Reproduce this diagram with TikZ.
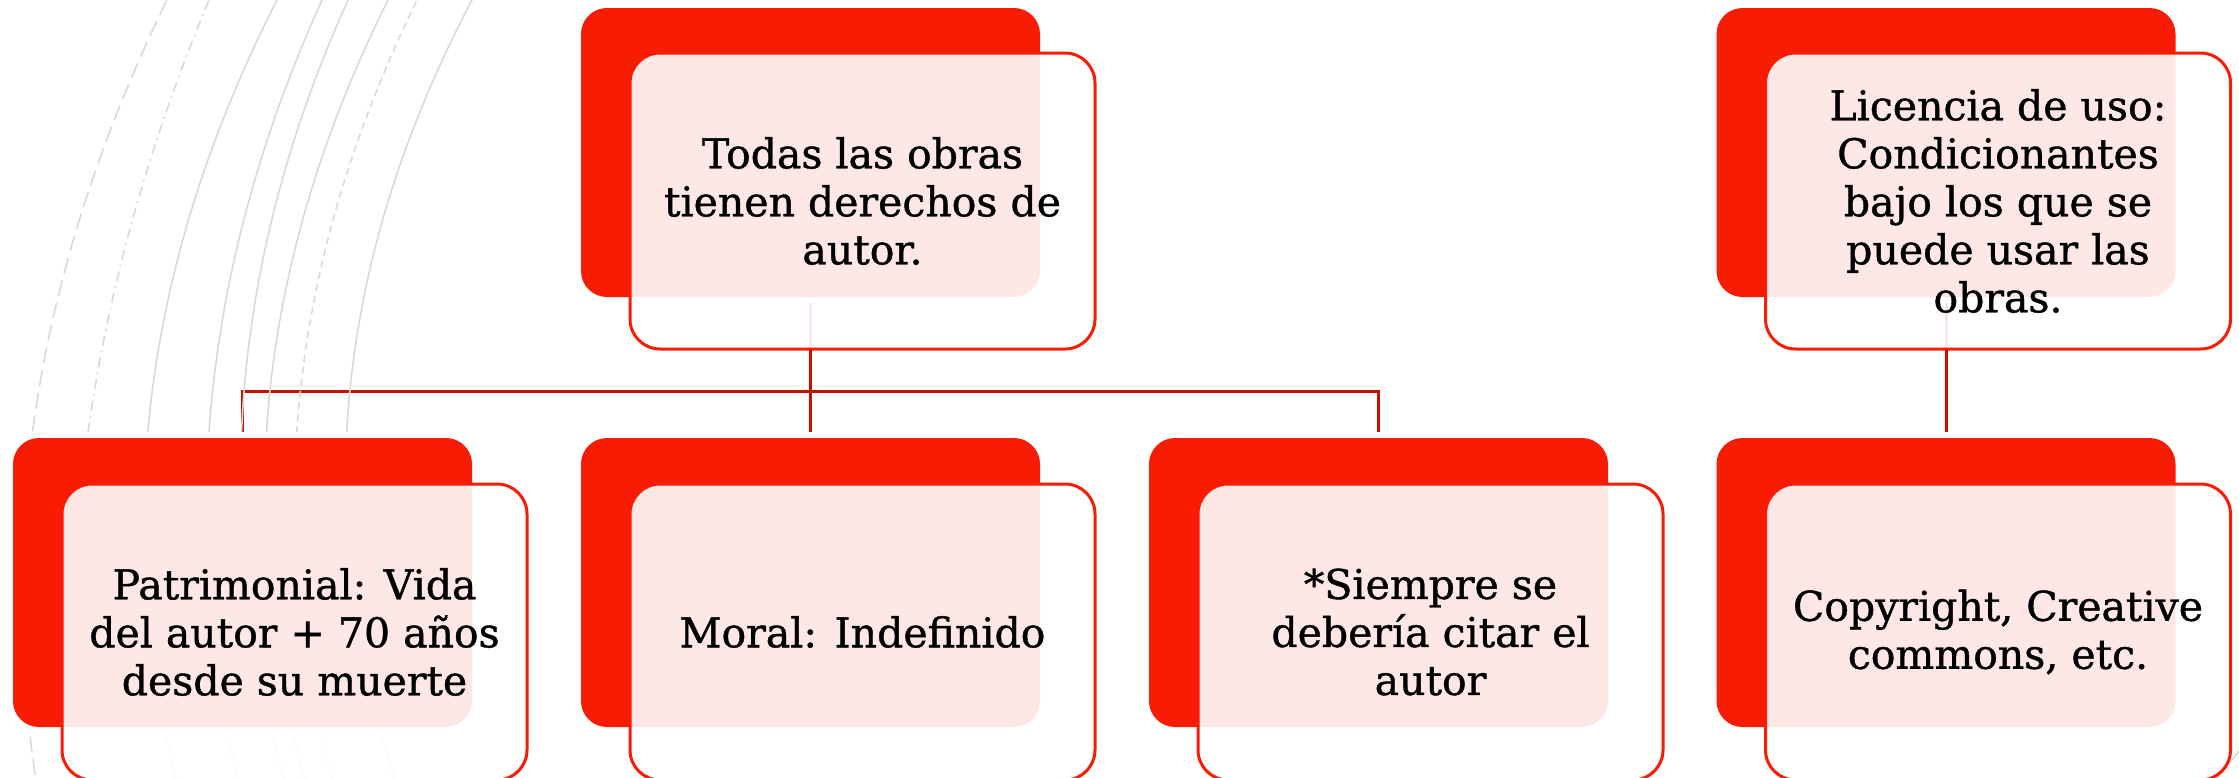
\documentclass[tikz,border=0pt]{standalone}
\usepackage{fontspec}
\setmainfont{DejaVu Serif}[RawFeature={embolden=1}]
\definecolor{boxred}{RGB}{248,28,5}
\definecolor{connred}{RGB}{192,16,0}
\definecolor{arcgrey}{RGB}{217,217,217}
\pgfdeclarelayer{bg}
\pgfsetlayers{bg,main}
\tikzset{
  backbox/.style={rectangle, rounded corners=13pt, fill=boxred, minimum width=229.5pt, minimum height=144.5pt, inner sep=0pt, preaction={draw=white, line width=6pt}},
  textbox/.style={rectangle, rounded corners=15pt, draw=boxred, line width=1.5pt, fill=white, fill opacity=0.9, text opacity=1, minimum width=232.5pt, minimum height=148pt, inner sep=0pt, align=center, font=\fontsize{20.5}{24}\selectfont},
  conn/.style={draw=connred, line width=1.5pt},
  arcline/.style={draw=arcgrey, line width=0.8pt},
  longdash/.style={dash pattern=on 8pt off 3.5pt},
  dashdotline/.style={dash pattern=on 5pt off 2.5pt on 1pt off 2.5pt},
  shortdash/.style={dash pattern=on 3.5pt off 2.5pt},
}
\begin{document}
\begin{tikzpicture}[x=0.5pt,y=-0.5pt]
\useasboundingbox (0,0) rectangle (2239,777);
% background arcs (x = a + p*y + q*y^2)
\begin{scope}
\clip (0,0) rectangle (2239,777);
\draw[arcline,longdash] plot[domain=-20:790,samples=80,smooth] ({167-0.4893*\x+0.0004093*\x*\x},\x);
\draw[arcline,dashdotline] plot[domain=-20:790,samples=80,smooth] ({209-0.4184*\x+0.0003149*\x*\x},\x);
\draw[arcline] plot[domain=-20:790,samples=80,smooth] ({277-0.5099*\x+0.0004892*\x*\x},\x);
\draw[arcline] plot[domain=-20:790,samples=80,smooth] ({322-0.4528*\x+0.0004479*\x*\x},\x);
\draw[arcline] plot[domain=-20:790,samples=80,smooth] ({348-0.4507*\x+0.0004699*\x*\x},\x);
\draw[arcline] plot[domain=-20:790,samples=80,smooth] ({388-0.4989*\x+0.0005065*\x*\x},\x);
\draw[arcline,shortdash] plot[domain=-20:790,samples=80,smooth] ({417-0.4892*\x+0.0004841*\x*\x},\x);
\draw[arcline] plot[domain=-20:790,samples=80,smooth] ({472-0.5271*\x+0.0005557*\x*\x},\x);
\draw[arcline] (2252,735) -- (2212,785);
\end{scope}

% back boxes
\node[backbox] (r0) at (810.5,152.5) {};
\node[backbox] (rr) at (1946,152.5) {};
\node[backbox] (r1) at (242.5,582.5) {};
\node[backbox] (r2) at (810.5,582.5) {};
\node[backbox] (r3) at (1378.5,582.5) {};
\node[backbox] (r4) at (1946,582.5) {};

% text boxes
\node[textbox] (t0) at (862.5,201) {Todas las obras\\tienen derechos de\\autor.};
\node[textbox] (tr) at (1998,201) {Licencia de uso:\\Condicionantes\\bajo los que se\\puede usar las\\obras.};
\node[textbox] (t1) at (294.5,632) {Patrimonial: Vida\\del autor + 70 años\\desde su muerte};
\node[textbox] (t2) at (862.5,632) {Moral: Indefinido};
\node[textbox] (t3) at (1430.5,632) {*Siempre se\\debería citar el\\autor};
\node[textbox] (t4) at (1998,632) {Copyright, Creative\\commons, etc.};

% connectors
\coordinate (bar) at (0,391);
\begin{pgfonlayer}{bg}
\draw[conn] (r0.south) -- (r0.south |- bar);
\draw[conn] (r1.north) |- (r3.north |- bar) -- (r3.north);
\draw[conn] (r2.north) -- (r2.north |- bar);
\draw[conn] (rr.south) -- (r4.north);
\end{pgfonlayer}
\end{tikzpicture}
\end{document}
